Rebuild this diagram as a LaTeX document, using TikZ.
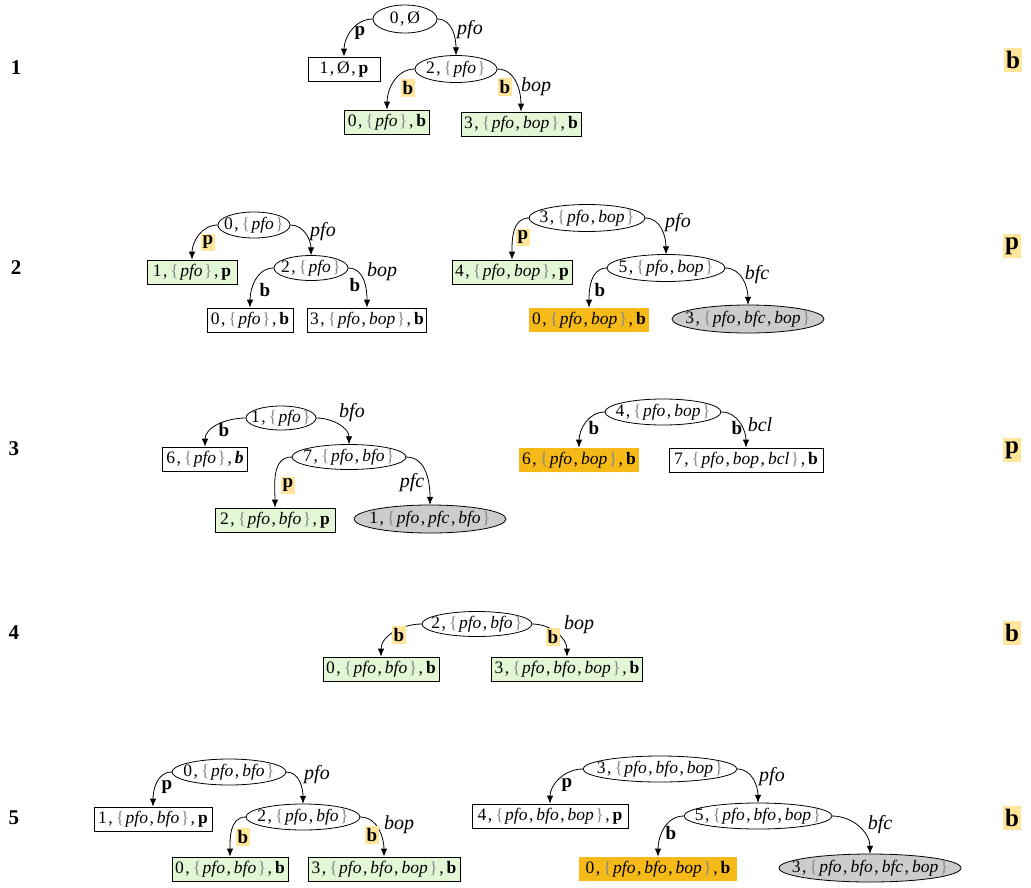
\documentclass[tikz,border=0pt]{standalone}
\usepackage{fontspec}
\setmainfont{Liberation Serif}
\usetikzlibrary{arrows.meta,patterns}
\definecolor{grn}{HTML}{E3F7D7}
\definecolor{hl}{HTML}{FFE69A}
\definecolor{orng}{HTML}{F6B814}
\definecolor{orngdot}{HTML}{FFD94F}
\definecolor{gry}{HTML}{CCCCCC}
\definecolor{brc}{HTML}{8A8A8A}
\newcommand\cc{\kern1.5pt,\kern3pt}
\newcommand\lb{{\color{brc}\{}\kern1.5pt}
\newcommand\rb{\kern1.5pt{\color{brc}\}}}
\newcommand\vi[1]{\textit{#1}}
\newcommand\vb[1]{\textbf{#1}}
\newcommand\EN[6]{%
  \path[ellbd, fill=#5] (#2) ellipse [x radius=#3, y radius=#4];
  \node[txt, inner sep=0pt, minimum width=#3*2pt, minimum height=#4*2pt] (#1) at (#2) {#6};}
\tikzset{
  txt/.style={font=\fontsize{17.5}{20}\selectfont},
  ellbd/.style={draw=black, line width=0.8pt},
  bx/.style={txt, rectangle, draw=black, line width=0.8pt, inner xsep=3pt, inner ysep=0pt, minimum height=24pt},
  gbx/.style={bx, fill=grn},
  obx/.style={bx, draw=none, fill=orng, postaction={pattern=dots, pattern color=orngdot}},
  arr/.style={draw, line width=0.8pt, -{Latex[length=8pt,width=6.5pt]}},
  lbi/.style={font=\fontsize{20}{22}\selectfont\itshape, inner sep=0pt},
  lbb/.style={font=\fontsize{19}{21}\selectfont\bfseries, inner sep=1pt},
  lbh/.style={lbb, fill=hl, inner xsep=2pt, inner ysep=2pt},
  rown/.style={font=\fontsize{21}{23}\selectfont\bfseries, inner sep=0pt},
  side/.style={font=\fontsize{25}{27}\selectfont\bfseries, fill=hl, inner xsep=2.5pt, inner ysep=3pt}
}
\begin{document}
\begin{tikzpicture}[x=1pt,y=-1pt]
\useasboundingbox (0,0) rectangle (1031,887);
% row labels
\node[rown] (n1) at (16,68) {1};
\node[rown] (n2) at (16,268) {2};
\node[rown] (n3) at (14,449) {3};
\node[rown] (n4) at (14,633) {4};
\node[rown] (n5) at (14,818) {5};
\node[side] (s1) at (1013,60) {b};
\node[side] (s2) at (1012,246) {p};
\node[side] (s3) at (1012,450) {p};
\node[side] (s4) at (1012,633) {b};
\node[side] (s5) at (1012,818) {b};

% ---------- Row 1
\EN{r1a}{405,19}{32}{14}{white}{0\cc Ø}
\node[bx, minimum width=72pt] (r1b) at (344,69) {1\cc Ø\cc\vb{p}};
\EN{r1c}{456,69}{41}{13.5}{white}{2\cc\lb\vi{pfo}\rb}
\node[gbx, minimum width=84pt] (r1d) at (387,122) {0\cc\lb\vi{pfo}\rb\cc\vb{b}};
\node[gbx, minimum width=120pt] (r1e) at (521,124) {3\cc\lb\vi{pfo}\cc\vi{bop}\rb\cc\vb{b}};
\draw[arr] (r1a.west) to[out=180,in=90] (r1b.north);
\draw[arr] (r1a.east) to[out=0,in=90] (r1c.north);
\draw[arr] (r1c.west) to[out=180,in=90] (r1d.north);
\draw[arr] (r1c.east) to[out=0,in=90] (r1e.north);
\node[lbb] (l1a) at (360,33) {p};
\node[lbi] (l1b) at (470,30) {pfo};
\node[lbh] (l1c) at (408,88) {b};
\node[lbh] (l1d) at (505,87) {b};
\node[lbi] (l1e) at (536,87) {bop};

% ---------- Row 2 left
\EN{r2a}{254,225}{36}{13}{white}{0\cc\lb\vi{pfo}\rb}
\node[gbx, minimum width=90pt] (r2b) at (192,272) {1\cc\lb\vi{pfo}\rb\cc\vb{p}};
\EN{r2c}{311,268}{37}{12.5}{white}{2\cc\lb\vi{pfo}\rb}
\node[bx, minimum width=86pt] (r2d) at (250,320) {0\cc\lb\vi{pfo}\rb\cc\vb{b}};
\node[bx, minimum width=118pt] (r2e) at (367,320) {3\cc\lb\vi{pfo}\cc\vi{bop}\rb\cc\vb{b}};
\draw[arr] (r2a.west) to[out=180,in=90] (r2b.north);
\draw[arr] (r2a.east) to[out=0,in=90] (r2c.north);
\draw[arr] (r2c.west) to[out=180,in=90] (r2d.north);
\draw[arr] (r2c.east) to[out=0,in=90] (r2e.north);
\node[lbh] (l2a) at (208,242) {p};
\node[lbi] (l2b) at (323,232) {pfo};
\node[lbb] (l2c) at (265,290) {b};
\node[lbb] (l2d) at (355,285) {b};
\node[lbi] (l2e) at (382,272) {bop};

% ---------- Row 2 right
\EN{r2f}{587,218}{58}{13.5}{white}{3\cc\lb\vi{pfo}\cc\vi{bop}\rb}
\node[gbx, minimum width=120pt] (r2g) at (512,272) {4\cc\lb\vi{pfo}\cc\vi{bop}\rb\cc\vb{p}};
\EN{r2h}{666,268}{59}{13.5}{white}{5\cc\lb\vi{pfo}\cc\vi{bop}\rb}
\node[obx, minimum width=120pt] (r2i) at (589,320) {0\cc\lb\vi{pfo}\cc\vi{bop}\rb\cc\vb{b}};
\EN{r2j}{748,319}{76}{14}{gry}{3\cc\lb\vi{pfo}\cc\vi{bfc}\cc\vi{bop}\rb}
\draw[arr] (r2f.west) to[out=180,in=90] (r2g.north);
\draw[arr] (r2f.east) to[out=0,in=90] (r2h.north);
\draw[arr] (r2h.west) to[out=180,in=90] (r2i.north);
\draw[arr] (r2h.east) to[out=0,in=90] (r2j.north);
\node[lbh] (l2f) at (523,237) {p};
\node[lbi] (l2g) at (678,223) {pfo};
\node[lbb] (l2h) at (600,290) {b};
\node[lbi] (l2i) at (757,275) {bfc};

% ---------- Row 3 left
\EN{r3a}{281,418}{35}{12}{white}{1\cc\lb\vi{pfo}\rb}
\node[bx, minimum width=85pt] (r3b) at (205,459) {6\cc\lb\vi{pfo}\rb\cc\textbf{\textit{b}}};
\EN{r3c}{349,457}{57}{12.5}{white}{7\cc\lb\vi{pfo}\cc\vi{bfo}\rb}
\node[gbx, minimum width=120pt] (r3d) at (275,520) {2\cc\lb\vi{pfo}\cc\vi{bfo}\rb\cc\vb{p}};
\EN{r3e}{430,519}{76}{14}{gry}{1\cc\lb\vi{pfo}\cc\vi{pfc}\cc\vi{bfo}\rb}
\draw[arr] (r3a.west) to[out=180,in=90] (r3b.north);
\draw[arr] (r3a.east) to[out=0,in=90] (r3c.north);
\draw[arr] (r3c.west) to[out=180,in=90] (r3d.north);
\draw[arr] (r3c.east) to[out=0,in=90] (r3e.north);
\node[lbb] (l3a) at (224,430) {b};
\node[lbi] (l3b) at (352,413) {bfo};
\node[lbh] (l3c) at (288,485) {p};
\node[lbi] (l3d) at (412,483) {pfc};

% ---------- Row 3 right
\EN{r3f}{663,412}{58}{13}{white}{4\cc\lb\vi{pfo}\cc\vi{bop}\rb}
\node[obx, minimum width=118pt] (r3g) at (579,460) {6\cc\lb\vi{pfo}\cc\vi{bop}\rb\cc\vb{b}};
\node[bx, minimum width=154pt] (r3h) at (746,460) {7\cc\lb\vi{pfo}\cc\vi{bop}\cc\vi{bcl}\rb\cc\vb{b}};
\draw[arr] (r3f.west) to[out=180,in=90] (r3g.north);
\draw[arr] (r3f.east) to[out=0,in=90] (r3h.north);
\node[lbb] (l3e) at (594,428) {b};
\node[lbb] (l3f) at (737,428) {b};
\node[lbi] (l3g) at (760,425) {bcl};

% ---------- Row 4
\EN{r4a}{477,624}{55}{12.5}{white}{2\cc\lb\vi{pfo}\cc\vi{bfo}\rb}
\node[gbx, minimum width=116pt] (r4b) at (381,669) {0\cc\lb\vi{pfo}\cc\vi{bfo}\rb\cc\vb{b}};
\node[gbx, minimum width=151pt] (r4c) at (567,669) {3\cc\lb\vi{pfo}\cc\vi{bfo}\cc\vi{bop}\rb\cc\vb{b}};
\draw[arr] (r4a.west) to[out=180,in=90] (r4b.north);
\draw[arr] (r4a.east) to[out=0,in=90] (r4c.north);
\node[lbh] (l4a) at (399,635) {b};
\node[lbh] (l4b) at (553,637) {b};
\node[lbi] (l4c) at (579,625) {bop};

% ---------- Row 5 left
\EN{r5a}{229,772}{57}{13}{white}{0\cc\lb\vi{pfo}\cc\vi{bfo}\rb}
\node[bx, minimum width=118pt] (r5b) at (153,819) {1\cc\lb\vi{pfo}\cc\vi{bfo}\rb\cc\vb{p}};
\EN{r5c}{303,817}{57}{13}{white}{2\cc\lb\vi{pfo}\cc\vi{bfo}\rb}
\node[gbx, minimum width=116pt] (r5d) at (230,869) {0\cc\lb\vi{pfo}\cc\vi{bfo}\rb\cc\vb{b}};
\node[gbx, minimum width=152pt] (r5e) at (384,869) {3\cc\lb\vi{pfo}\cc\vi{bfo}\cc\vi{bop}\rb\cc\vb{b}};
\draw[arr] (r5a.west) to[out=180,in=90] (r5b.north);
\draw[arr] (r5a.east) to[out=0,in=90] (r5c.north);
\draw[arr] (r5c.west) to[out=180,in=90] (r5d.north);
\draw[arr] (r5c.east) to[out=0,in=90] (r5e.north);
\node[lbb] (l5a) at (167,787) {p};
\node[lbi] (l5b) at (317,775) {pfo};
\node[lbh] (l5c) at (243,837) {b};
\node[lbh] (l5d) at (372,835) {b};
\node[lbi] (l5e) at (399,825) {bop};

% ---------- Row 5 right
\EN{r5f}{660,769}{77}{13}{white}{3\cc\lb\vi{pfo}\cc\vi{bfo}\cc\vi{bop}\rb}
\node[bx, minimum width=156pt] (r5g) at (550,816) {4\cc\lb\vi{pfo}\cc\vi{bfo}\cc\vi{bop}\rb\cc\vb{p}};
\EN{r5h}{758,816}{74}{13}{white}{5\cc\lb\vi{pfo}\cc\vi{bfo}\cc\vi{bop}\rb}
\node[obx, minimum width=158pt] (r5i) at (658,869) {0\cc\lb\vi{pfo}\cc\vi{bfo}\cc\vi{bop}\rb\cc\vb{b}};
\EN{r5j}{870,868}{91}{14}{gry}{3\cc\lb\vi{pfo}\cc\vi{bfo}\cc\vi{bfc}\cc\vi{bop}\rb}
\draw[arr] (r5f.west) to[out=180,in=90] (r5g.north);
\draw[arr] (r5f.east) to[out=0,in=90] (r5h.north);
\draw[arr] (r5h.west) to[out=180,in=90] (r5i.north);
\draw[arr] (r5h.east) to[out=0,in=90] (r5j.north);
\node[lbb] (l5f) at (567,785) {p};
\node[lbi] (l5g) at (772,777) {pfo};
\node[lbb] (l5h) at (671,833) {b};
\node[lbi] (l5i) at (880,825) {bfc};
\end{tikzpicture}
\end{document}
